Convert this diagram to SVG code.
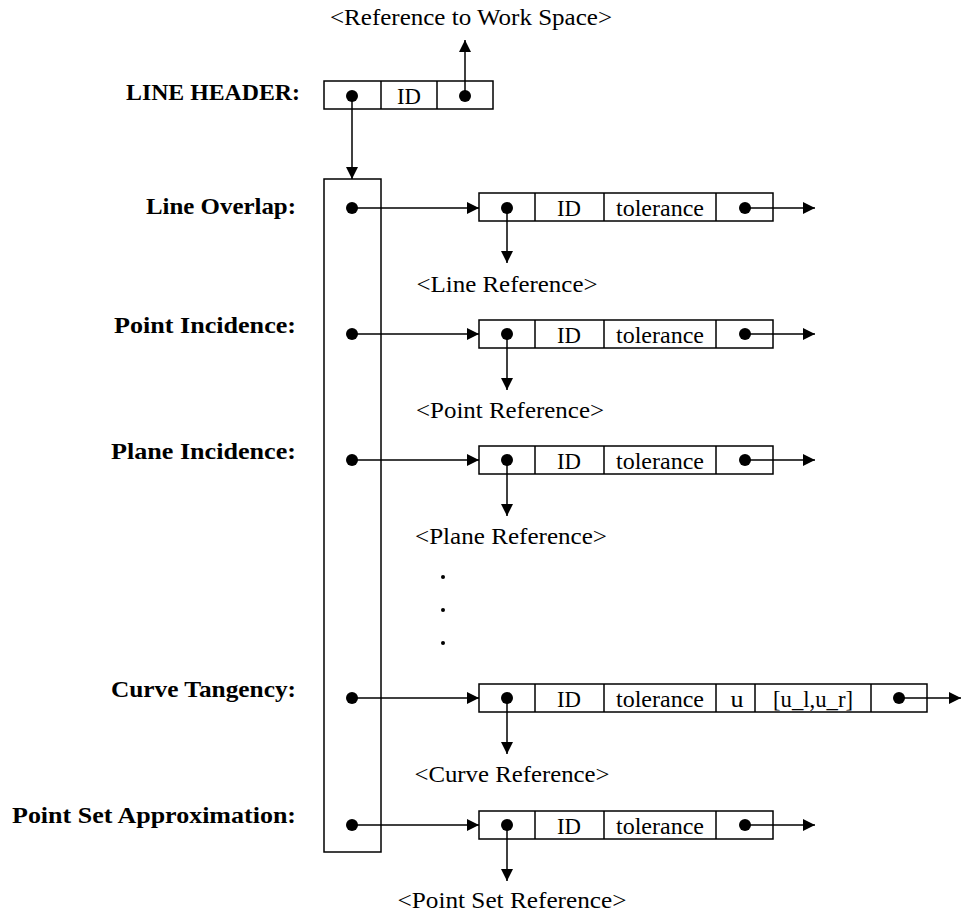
<svg xmlns="http://www.w3.org/2000/svg" width="961" height="913" viewBox="0 0 961 913">
<defs>
<marker id="ah" viewBox="0 0 12 12" refX="12" refY="6" markerWidth="12" markerHeight="12" markerUnits="userSpaceOnUse" orient="auto">
<path d="M0,0 L12,6 L0,12 z" fill="#000"/>
</marker>
</defs>
<style>
.box{fill:#fff;stroke:#000;stroke-width:1.5}
.ln{stroke:#000;stroke-width:1.5;fill:none}
.dot{fill:#000}
.lab{font-family:"Liberation Serif","DejaVu Serif",serif;font-weight:bold;font-size:24px;text-anchor:end}
.t{font-family:"Liberation Serif","DejaVu Serif",serif;font-size:23px;text-anchor:middle}
</style>
<rect width="961" height="913" fill="#fff"/>

<g id="header">
<text class="lab" x="300" y="100" textLength="174" lengthAdjust="spacingAndGlyphs">LINE HEADER:</text>
<rect class="box" x="324" y="81" width="169" height="28"/>
<line class="ln" x1="381" y1="81" x2="381" y2="109"/>
<line class="ln" x1="437" y1="81" x2="437" y2="109"/>
<text class="t" x="409" y="104" textLength="24" lengthAdjust="spacingAndGlyphs">ID</text>
<circle class="dot" cx="352" cy="96" r="6"/>
<circle class="dot" cx="465" cy="96" r="6"/>
<text class="t" x="471" y="25" textLength="282" lengthAdjust="spacingAndGlyphs">&lt;Reference to Work Space&gt;</text>
</g>

<g id="list">
<rect class="box" x="324" y="179" width="57" height="673"/>
<text class="lab" x="296" y="214" textLength="150" lengthAdjust="spacingAndGlyphs">Line Overlap:</text>
<text class="lab" x="296" y="333" textLength="182" lengthAdjust="spacingAndGlyphs">Point Incidence:</text>
<text class="lab" x="296" y="459" textLength="185" lengthAdjust="spacingAndGlyphs">Plane Incidence:</text>
<text class="lab" x="296" y="697" textLength="185" lengthAdjust="spacingAndGlyphs">Curve Tangency:</text>
<text class="lab" x="296" y="823" textLength="284" lengthAdjust="spacingAndGlyphs">Point Set Approximation:</text>
<circle class="dot" cx="352" cy="208" r="6"/>
<circle class="dot" cx="352" cy="334" r="6"/>
<circle class="dot" cx="352" cy="460" r="6"/>
<circle class="dot" cx="352" cy="698" r="6"/>
<circle class="dot" cx="352" cy="825" r="6"/>
</g>

<g id="lineOverlap">
<rect class="box" x="479" y="193" width="294" height="28"/>
<line class="ln" x1="535" y1="193" x2="535" y2="221"/>
<line class="ln" x1="604" y1="193" x2="604" y2="221"/>
<line class="ln" x1="716" y1="193" x2="716" y2="221"/>
<text class="t" x="569" y="216" textLength="24" lengthAdjust="spacingAndGlyphs">ID</text>
<text class="t" x="660" y="216" textLength="88" lengthAdjust="spacingAndGlyphs">tolerance</text>
<circle class="dot" cx="507" cy="208" r="6"/>
<circle class="dot" cx="745" cy="208" r="6"/>
<text class="t" x="507" y="292" textLength="181" lengthAdjust="spacingAndGlyphs">&lt;Line Reference&gt;</text>
</g>

<g id="pointIncidence">
<rect class="box" x="479" y="320" width="294" height="28"/>
<line class="ln" x1="535" y1="320" x2="535" y2="348"/>
<line class="ln" x1="604" y1="320" x2="604" y2="348"/>
<line class="ln" x1="716" y1="320" x2="716" y2="348"/>
<text class="t" x="569" y="343" textLength="24" lengthAdjust="spacingAndGlyphs">ID</text>
<text class="t" x="660" y="343" textLength="88" lengthAdjust="spacingAndGlyphs">tolerance</text>
<circle class="dot" cx="507" cy="334" r="6"/>
<circle class="dot" cx="745" cy="334" r="6"/>
<text class="t" x="510" y="418" textLength="188" lengthAdjust="spacingAndGlyphs">&lt;Point Reference&gt;</text>
</g>

<g id="planeIncidence">
<rect class="box" x="479" y="446" width="294" height="28"/>
<line class="ln" x1="535" y1="446" x2="535" y2="474"/>
<line class="ln" x1="604" y1="446" x2="604" y2="474"/>
<line class="ln" x1="716" y1="446" x2="716" y2="474"/>
<text class="t" x="569" y="469" textLength="24" lengthAdjust="spacingAndGlyphs">ID</text>
<text class="t" x="660" y="469" textLength="88" lengthAdjust="spacingAndGlyphs">tolerance</text>
<circle class="dot" cx="507" cy="460" r="6"/>
<circle class="dot" cx="745" cy="460" r="6"/>
<text class="t" x="511" y="544" textLength="192" lengthAdjust="spacingAndGlyphs">&lt;Plane Reference&gt;</text>
</g>

<g id="ellipsis">
<circle class="dot" cx="443" cy="577" r="2"/>
<circle class="dot" cx="443" cy="610" r="2"/>
<circle class="dot" cx="443" cy="643" r="2"/>
</g>

<g id="curveTangency">
<rect class="box" x="479" y="684" width="448" height="28"/>
<line class="ln" x1="535" y1="684" x2="535" y2="712"/>
<line class="ln" x1="604" y1="684" x2="604" y2="712"/>
<line class="ln" x1="716" y1="684" x2="716" y2="712"/>
<line class="ln" x1="755" y1="684" x2="755" y2="712"/>
<line class="ln" x1="871" y1="684" x2="871" y2="712"/>
<text class="t" x="569" y="707" textLength="24" lengthAdjust="spacingAndGlyphs">ID</text>
<text class="t" x="660" y="707" textLength="88" lengthAdjust="spacingAndGlyphs">tolerance</text>
<text class="t" x="737" y="707" textLength="13" lengthAdjust="spacingAndGlyphs">u</text>
<text class="t" x="813" y="707" textLength="80" lengthAdjust="spacingAndGlyphs">[u_l,u_r]</text>
<circle class="dot" cx="507" cy="698" r="6"/>
<circle class="dot" cx="899" cy="698" r="6"/>
<text class="t" x="512" y="782" textLength="195" lengthAdjust="spacingAndGlyphs">&lt;Curve Reference&gt;</text>
</g>

<g id="pointSetApprox">
<rect class="box" x="479" y="811" width="294" height="28"/>
<line class="ln" x1="535" y1="811" x2="535" y2="839"/>
<line class="ln" x1="604" y1="811" x2="604" y2="839"/>
<line class="ln" x1="716" y1="811" x2="716" y2="839"/>
<text class="t" x="569" y="834" textLength="24" lengthAdjust="spacingAndGlyphs">ID</text>
<text class="t" x="660" y="834" textLength="88" lengthAdjust="spacingAndGlyphs">tolerance</text>
<circle class="dot" cx="507" cy="825" r="6"/>
<circle class="dot" cx="745" cy="825" r="6"/>
<text class="t" x="512" y="908" textLength="229" lengthAdjust="spacingAndGlyphs">&lt;Point Set Reference&gt;</text>
</g>

<g id="connectors">
<line class="ln" x1="465" y1="96" x2="465" y2="40" marker-end="url(#ah)"/>
<line class="ln" x1="352" y1="96" x2="352" y2="179" marker-end="url(#ah)"/>
<line class="ln" x1="352" y1="208" x2="479" y2="208" marker-end="url(#ah)"/>
<line class="ln" x1="352" y1="334" x2="479" y2="334" marker-end="url(#ah)"/>
<line class="ln" x1="352" y1="460" x2="479" y2="460" marker-end="url(#ah)"/>
<line class="ln" x1="352" y1="698" x2="479" y2="698" marker-end="url(#ah)"/>
<line class="ln" x1="352" y1="825" x2="479" y2="825" marker-end="url(#ah)"/>
<line class="ln" x1="745" y1="208" x2="815" y2="208" marker-end="url(#ah)"/>
<line class="ln" x1="745" y1="334" x2="815" y2="334" marker-end="url(#ah)"/>
<line class="ln" x1="745" y1="460" x2="815" y2="460" marker-end="url(#ah)"/>
<line class="ln" x1="899" y1="698" x2="961" y2="698" marker-end="url(#ah)"/>
<line class="ln" x1="745" y1="825" x2="815" y2="825" marker-end="url(#ah)"/>
<line class="ln" x1="507" y1="208" x2="507" y2="263" marker-end="url(#ah)"/>
<line class="ln" x1="507" y1="334" x2="507" y2="390" marker-end="url(#ah)"/>
<line class="ln" x1="507" y1="460" x2="507" y2="516" marker-end="url(#ah)"/>
<line class="ln" x1="507" y1="698" x2="507" y2="754" marker-end="url(#ah)"/>
<line class="ln" x1="507" y1="825" x2="507" y2="881" marker-end="url(#ah)"/>
</g>
</svg>
